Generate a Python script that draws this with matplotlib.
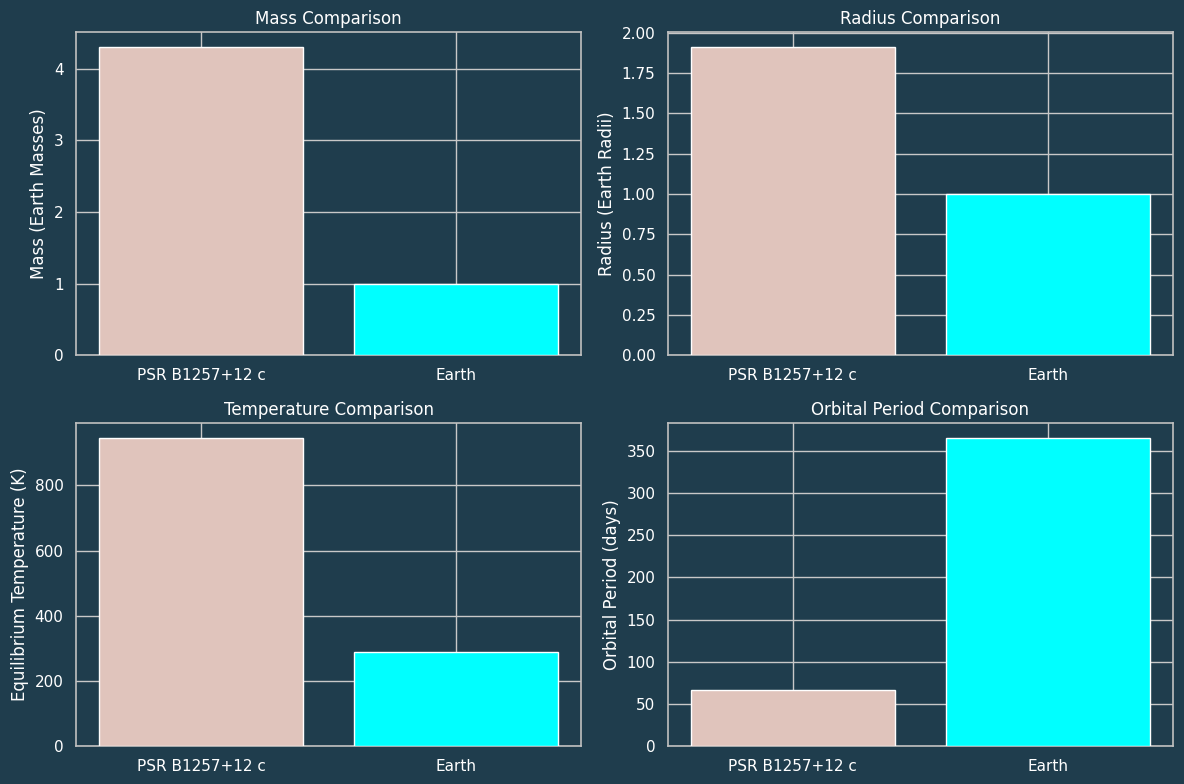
import matplotlib
matplotlib.use('Agg')
import matplotlib.pyplot as plt

# data
planets = ['PSR B1257+12 c', 'Earth']
mass = [4.3, 1.0]            # Earth masses
radius = [1.91, 1.0]         # Earth radii
temperature = [945, 288]     # K
period = [66.5, 365.25]      # days

bg = '#1f3d4d'
colors = ['#e0c4bc', '#00ffff']

plt.rcParams['font.family'] = 'DejaVu Sans'
plt.rcParams['text.color'] = 'white'
plt.rcParams['axes.labelcolor'] = 'white'
plt.rcParams['xtick.color'] = 'white'
plt.rcParams['ytick.color'] = 'white'

fig, axes = plt.subplots(2, 2, figsize=(11.84, 7.84), dpi=100)
fig.patch.set_facecolor(bg)

panels = [
    (mass, 'Mass (Earth Masses)', 'Mass Comparison'),
    (radius, 'Radius (Earth Radii)', 'Radius Comparison'),
    (temperature, 'Equilibrium Temperature (K)', 'Temperature Comparison'),
    (period, 'Orbital Period (days)', 'Orbital Period Comparison'),
]

for ax, (vals, ylab, title) in zip(axes.flat, panels):
    ax.set_facecolor(bg)
    ax.bar(planets, vals, color=colors, edgecolor='white', linewidth=1, zorder=3)
    ax.set_ylabel(ylab, fontsize=12)
    ax.set_title(title, fontsize=12)
    ax.grid(True, color='#c8c8c8', linewidth=1, zorder=0)
    ax.set_axisbelow(True)
    ax.tick_params(axis='x', length=0, labelsize=11, pad=9.5)
    ax.tick_params(axis='y', length=0, labelsize=11, pad=9)
    for s in ax.spines.values():
        s.set_color('#c0c0c0')
        s.set_linewidth(1.2)

plt.subplots_adjust(left=0.0642, right=0.9907, top=0.9592, bottom=0.0485,
                    wspace=0.172, hspace=0.21)
plt.savefig('out.png', facecolor=bg)
